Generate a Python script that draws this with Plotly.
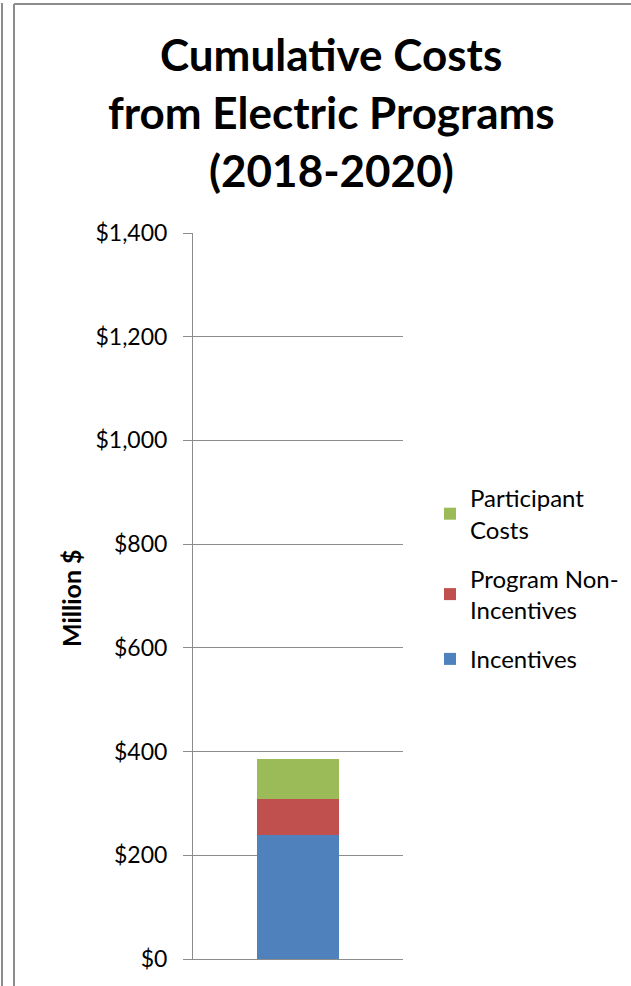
"""Cumulative costs from electric programs, stacked bar."""

import plotly.graph_objects as go

# Data (million $)
category = ["2018-2020"]
incentives = [239]
program_non_incentives = [70]
participant_costs = [76]

series_names = ["Incentives", "Program Non-<br>Incentives", "Participant<br>Costs"]
series_values = [incentives, program_non_incentives, participant_costs]
series_colors = ["#4F81BD", "#C0504D", "#9BBB59"]
legend_ranks = [3, 2, 1]

y_ticks = [0, 200, 400, 600, 800, 1000, 1200, 1400]
y_tick_labels = ["$0", "$200", "$400", "$600", "$800", "$1,000", "$1,200", "$1,400"]

title_lines = ["Cumulative Costs", "from Electric Programs", "(2018-2020)"]

FONT = "Lato, Calibri, Arial, sans-serif"
W, H = 631, 986
# plot area in pixels
L, R, T, B = 193, 403, 233, 959


def px_x(x):
    return (x - L) / (R - L)


def px_y(y):
    return (B - y) / (B - T)


fig = go.Figure()

for name, vals, color, rank in zip(series_names, series_values, series_colors, legend_ranks):
    fig.add_trace(
        go.Bar(
            x=category,
            y=vals,
            name=name,
            legendgroup=name,
            legendrank=rank,
            marker={"color": color, "line": {"width": 0}},
        )
    )

# Title lines
for i, line in enumerate(title_lines):
    fig.add_annotation(
        text=f"<b>{line}</b>",
        xref="paper",
        yref="paper",
        x=px_x(331),
        y=px_y(54 + i * 58),
        xanchor="center",
        yanchor="middle",
        showarrow=False,
        font={"family": FONT, "size": 44, "color": "#000000"},
    )

# Y axis title
fig.add_annotation(
    text="<b>Million $</b>",
    xref="paper",
    yref="paper",
    x=px_x(71),
    y=px_y(598),
    textangle=-90,
    showarrow=False,
    xanchor="center",
    yanchor="middle",
    font={"family": FONT, "size": 25, "color": "#000000"},
)

# Outer frame lines
frame = {"type": "line", "xref": "paper", "yref": "paper", "line": {"color": "#8c8c8c", "width": 2}}
fig.add_shape(**frame, x0=px_x(2), x1=px_x(2), y0=px_y(3), y1=px_y(990))
fig.add_shape(**frame, x0=px_x(14), x1=px_x(14), y0=px_y(4), y1=px_y(990))
fig.add_shape(**frame, x0=px_x(14), x1=px_x(640), y0=px_y(4), y1=px_y(4))

fig.update_layout(
    width=W,
    height=H,
    margin={"l": L, "r": W - R, "t": T, "b": H - B, "pad": 0, "autoexpand": False},
    barmode="stack",
    bargap=0.605,
    plot_bgcolor="white",
    paper_bgcolor="white",
    font={"family": FONT, "size": 23, "color": "#000000"},
    showlegend=True,
    legend={
        "x": px_x(430),
        "y": px_y(476),
        "xanchor": "left",
        "yanchor": "top",
        "traceorder": "grouped",
        "tracegroupgap": 15,
        "font": {"family": FONT, "size": 24, "color": "#000000"},
        "itemwidth": 30,
    },
)

fig.update_xaxes(
    showticklabels=False,
    showgrid=False,
    showline=True,
    linecolor="#8c8c8c",
    linewidth=1,
    ticks="",
)

fig.update_yaxes(
    range=[0, 1400],
    tickvals=y_ticks,
    ticktext=y_tick_labels,
    showgrid=True,
    gridcolor="#8c8c8c",
    gridwidth=1,
    showline=True,
    linecolor="#8c8c8c",
    linewidth=1,
    ticks="outside",
    ticklen=9,
    tickcolor="#8c8c8c",
    ticklabelstandoff=11,
    zeroline=False,
    tickfont={"family": FONT, "size": 23, "color": "#000000"},
)

# remove the default page margin so the figure sits at the window origin
fig.write_html(
    "out.html",
    config={"displayModeBar": False},
    post_script="document.body.style.margin='0';document.body.style.overflow='hidden';",
)
